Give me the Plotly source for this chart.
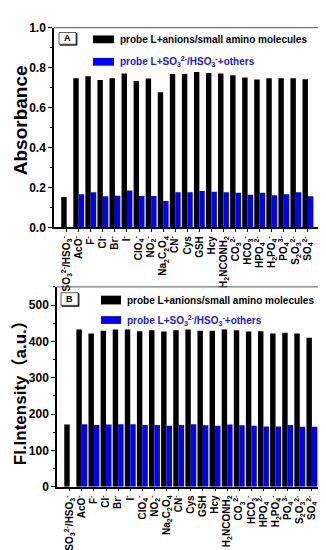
import plotly.graph_objects as go

# ---------------- data ----------------
categories = [
    "SO<sub>3</sub><sup>2-</sup>/HSO<sub>3</sub><sup>-</sup>",
    "AcO<sup>-</sup>", "F<sup>-</sup>", "Cl<sup>-</sup>", "Br<sup>-</sup>", "I<sup>-</sup>",
    "ClO<sub>4</sub><sup>-</sup>", "NO<sub>2</sub><sup>-</sup>",
    "Na<sub>2</sub>C<sub>2</sub>O<sub>4</sub>", "CN<sup>-</sup>",
    "Cys", "GSH", "Hcy", "H<sub>2</sub>NCONH<sub>2</sub>",
    "CO<sub>3</sub><sup>2-</sup>", "HCO<sub>3</sub><sup>-</sup>",
    "HPO<sub>4</sub><sup>2-</sup>", "H<sub>2</sub>PO<sub>4</sub><sup>-</sup>",
    "PO<sub>4</sub><sup>3-</sup>", "S<sub>2</sub>O<sub>3</sub><sup>2-</sup>",
    "SO<sub>4</sub><sup>2-</sup>",
]

abs_anions = [0.153, 0.747, 0.757, 0.738, 0.747, 0.771, 0.733, 0.746, 0.677, 0.768,
              0.768, 0.778, 0.773, 0.770, 0.762, 0.750, 0.741, 0.747, 0.747, 0.747, 0.742]
abs_sulfite = [None, 0.166, 0.176, 0.156, 0.159, 0.185, 0.158, 0.158, 0.133, 0.176,
               0.176, 0.182, 0.179, 0.176, 0.174, 0.164, 0.174, 0.161, 0.166, 0.176, 0.156]

fl_anions = [171, 433, 422, 429, 433, 433, 428, 431, 427, 431,
             433, 429, 429, 433, 431, 427, 428, 422, 424, 422, 410]
fl_sulfite = [None, 172, 170, 171, 172, 172, 170, 170, 168, 170,
              172, 169, 168, 171, 169, 168, 166, 166, 170, 165, 165]

legend_black = "probe L+anions/small amino molecules"
legend_blue = "probe L+SO<sub>3</sub><sup>2-</sup>/HSO<sub>3</sub><sup>-</sup>+others"

# ---------------- figure ----------------
W, H = 326, 550
FONT = "Liberation Sans, Arial, Noto Sans CJK SC, sans-serif"
BLUE = "#0000ff"
idx = list(range(len(categories)))

def fx(p):
    return p / W

def fy(p):
    return 1 - p / H

fig = go.Figure()
fig.add_trace(go.Bar(x=idx, y=abs_anions, marker=dict(color="black", line=dict(width=0)),
                     xaxis="x", yaxis="y", showlegend=False))
fig.add_trace(go.Bar(x=idx, y=abs_sulfite, marker=dict(color=BLUE, line=dict(width=0)),
                     xaxis="x", yaxis="y", showlegend=False))
fig.add_trace(go.Bar(x=idx, y=fl_anions, marker=dict(color="black", line=dict(width=0)),
                     xaxis="x2", yaxis="y2", showlegend=False))
fig.add_trace(go.Bar(x=idx, y=fl_sulfite, marker=dict(color=BLUE, line=dict(width=0)),
                     xaxis="x2", yaxis="y2", showlegend=False))

xcommon = dict(range=[-1.05, 21.0], tickvals=idx, ticktext=categories, tickangle=-90,
               showline=True, linecolor="black", linewidth=1.5, ticks="outside",
               ticklen=3, tickwidth=1, tickcolor="black", showgrid=False, zeroline=False,
               tickfont=dict(family=FONT, size=10, color="black", weight="bold"))
ycommon = dict(showline=True, linecolor="black", linewidth=1.5, ticks="outside",
               ticklen=4, tickwidth=1.2, tickcolor="black", showgrid=False, zeroline=False,
               tickfont=dict(family=FONT, size=12, color="black", weight="bold"))

fig.update_layout(
    width=W, height=H,
    margin=dict(l=0, r=0, t=0, b=0),
    paper_bgcolor="white", plot_bgcolor="white",
    barmode="group", bargap=0.1, bargroupgap=0,
    showlegend=False,
    xaxis=dict(domain=[fx(46), fx(312)], anchor="y", **xcommon),
    yaxis=dict(domain=[fy(218), fy(13)], anchor="x", range=[0, 1.0], dtick=0.2,
               tickformat=".1f",
               minor=dict(dtick=0.1, ticks="outside", ticklen=2, tickcolor="black"),
               **ycommon),
    xaxis2=dict(domain=[fx(49), fx(316)], anchor="y2", **xcommon),
    yaxis2=dict(domain=[fy(484), fy(279)], anchor="x2", range=[0, 550], dtick=100,
                minor=dict(dtick=50, ticks="outside", ticklen=2, tickcolor="black"),
                **ycommon),
)

shapes = []
annotations = []

# frames (top/right in grey)
for xr, yr in (("x", "y"), ("x2", "y2")):
    shapes.append(dict(type="line", xref=xr + " domain", yref=yr + " domain",
                       x0=0, x1=1, y0=1, y1=1, line=dict(color="#555555", width=1)))
    shapes.append(dict(type="line", xref=xr + " domain", yref=yr + " domain",
                       x0=1, x1=1, y0=0, y1=1, line=dict(color="#777777", width=1)))

# panel labels A / B with shadowed box
for lab, (x0, y0, x1, y1) in (("A", (51, 18, 68, 30)), ("B", (53, 285, 70, 298))):
    shapes.append(dict(type="rect", xref="paper", yref="paper",
                       x0=fx(x0 + 1), x1=fx(x1 + 1), y0=fy(y1 + 1), y1=fy(y0 + 1),
                       line=dict(color="#333333", width=1), fillcolor="#333333"))
    shapes.append(dict(type="rect", xref="paper", yref="paper",
                       x0=fx(x0), x1=fx(x1), y0=fy(y1), y1=fy(y0),
                       line=dict(color="#333333", width=0.8), fillcolor="white"))
    annotations.append(dict(text=lab, xref="paper", yref="paper",
                            x=fx((x0 + x1) / 2), y=fy((y0 + y1) / 2),
                            xanchor="center", yanchor="middle", showarrow=False,
                            font=dict(family=FONT, size=9, color="black", weight="bold")))

# legends
legend_pos = [
    # (swatch x0, x1, black y0,y1, blue y0,y1, text x)
    (85, 106, (21, 29), (44, 52), 110),
    (93, 113, (288, 297), (309, 317), 117),
]
for sx0, sx1, (by0, by1), (uy0, uy1), tx in legend_pos:
    shapes.append(dict(type="rect", xref="paper", yref="paper",
                       x0=fx(sx0), x1=fx(sx1), y0=fy(by1), y1=fy(by0),
                       line=dict(width=0), fillcolor="black"))
    shapes.append(dict(type="rect", xref="paper", yref="paper",
                       x0=fx(sx0), x1=fx(sx1), y0=fy(uy1), y1=fy(uy0),
                       line=dict(width=0), fillcolor=BLUE))
    annotations.append(dict(text=legend_black, xref="paper", yref="paper",
                            x=fx(tx), y=fy((by0 + by1) / 2), xanchor="left",
                            yanchor="middle", showarrow=False,
                            font=dict(family=FONT, size=10, color="black", weight="bold")))
    annotations.append(dict(text=legend_blue, xref="paper", yref="paper",
                            x=fx(tx), y=fy((uy0 + uy1) / 2), xanchor="left",
                            yanchor="middle", showarrow=False,
                            font=dict(family=FONT, size=10, color="#1a1ad0", weight="bold")))

# axis titles
annotations.append(dict(text="Absorbance", xref="paper", yref="paper",
                        x=fx(12), y=fy(108), xanchor="center", yanchor="middle",
                        textangle=-90, showarrow=False,
                        font=dict(family=FONT, size=19, color="black", weight="bold")))
annotations.append(dict(text="Fl.Intensity（a.u.）", xref="paper", yref="paper",
                        x=fx(12), y=fy(384), xanchor="center", yanchor="middle",
                        textangle=-90, showarrow=False,
                        font=dict(family=FONT, size=17, color="black", weight="bold")))

fig.update_layout(shapes=shapes, annotations=annotations)
fig.write_html("out.html")
